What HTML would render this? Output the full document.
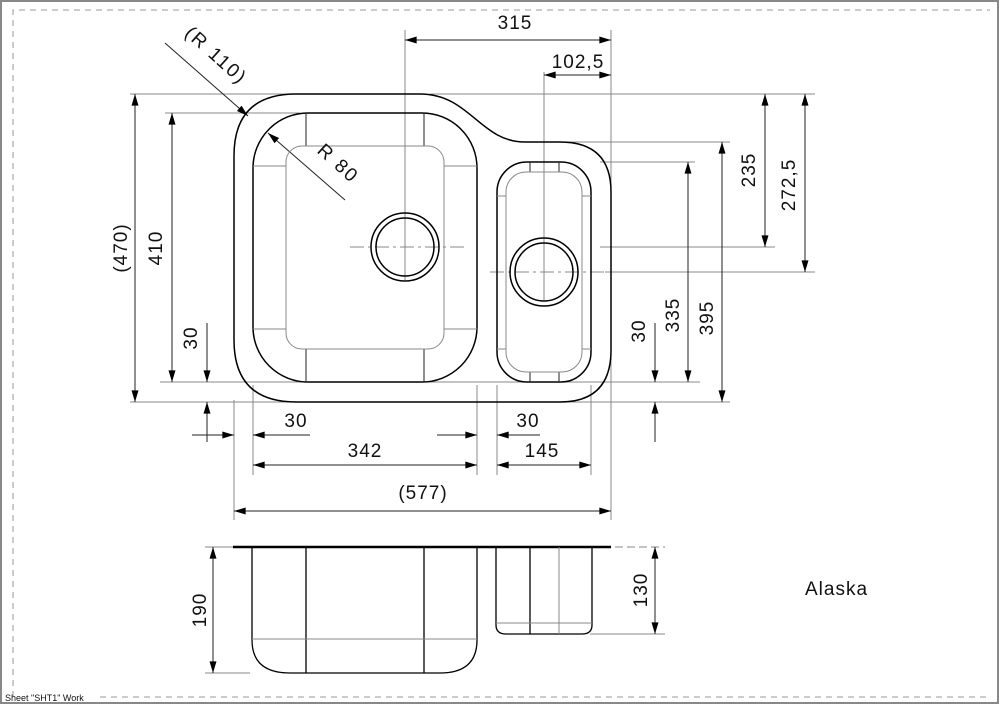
<!DOCTYPE html>
<html><head><meta charset="utf-8"><style>
html,body{margin:0;padding:0;background:#fff;}
svg{display:block;}
text{font-family:"Liberation Sans",sans-serif;font-size:19px;fill:#111;letter-spacing:1px;}
</style></head><body>
<svg width="1000" height="705" viewBox="0 0 1000 705" xmlns="http://www.w3.org/2000/svg">
<defs>
<marker id="a" viewBox="0 0 10 6" refX="10" refY="3" markerWidth="12" markerHeight="7" markerUnits="userSpaceOnUse" orient="auto-start-reverse"><path d="M0,0 L10,3 L0,6 z" fill="#000"/></marker>
</defs>
<rect x="1" y="1" width="997" height="702" fill="none" stroke="#888" stroke-width="2"/>
<path d="M13,697 V10 H990" fill="none" stroke="#999" stroke-dasharray="6,5"/>
<line x1="100" y1="697" x2="990" y2="697" stroke="#999" stroke-dasharray="6,5"/>
<text x="5" y="701" style="font-size:9px;letter-spacing:0">Sheet "SHT1" Work</text>

<g stroke="#888" stroke-width="1" fill="none">
<line x1="130" y1="94" x2="300" y2="94"/>
<line x1="430" y1="94" x2="815" y2="94"/>
<line x1="165" y1="113" x2="300" y2="113"/>
<line x1="130" y1="402" x2="730" y2="402"/>
<line x1="160" y1="382" x2="700" y2="382"/>
<line x1="565" y1="142" x2="730" y2="142"/>
<line x1="600" y1="162" x2="695" y2="162"/>
<line x1="600" y1="247" x2="775" y2="247"/>
<line x1="605" y1="272" x2="815" y2="272"/>
<line x1="234" y1="400" x2="234" y2="520"/>
<line x1="611" y1="30" x2="611" y2="520"/>
<line x1="253" y1="385" x2="253" y2="475"/>
<line x1="477" y1="385" x2="477" y2="475"/>
<line x1="497" y1="385" x2="497" y2="475"/>
<line x1="591" y1="385" x2="591" y2="475"/>
<line x1="405" y1="30" x2="405" y2="280"/>
<line x1="544" y1="72" x2="544" y2="300"/>
<line x1="205" y1="547" x2="235" y2="547"/>
<line x1="205" y1="673" x2="250" y2="673"/>
<line x1="590" y1="634" x2="665" y2="634"/>
<line x1="615" y1="547" x2="665" y2="547" stroke-dasharray="8,4"/>
<line x1="350" y1="247" x2="465" y2="247" stroke-dasharray="14,4,3,4"/>
<line x1="490" y1="272" x2="605" y2="272" stroke-dasharray="14,4,3,4"/>
</g>

<g stroke="#222" stroke-width="1" fill="none">
<line x1="405" y1="40" x2="611" y2="40" marker-start="url(#a)" marker-end="url(#a)"/>
<line x1="544" y1="75" x2="611" y2="75" marker-start="url(#a)" marker-end="url(#a)"/>
<line x1="165" y1="43" x2="248" y2="116" marker-end="url(#a)"/>
<line x1="345" y1="200" x2="268" y2="133" marker-end="url(#a)"/>
<line x1="135" y1="94" x2="135" y2="402" marker-start="url(#a)" marker-end="url(#a)"/>
<line x1="172" y1="113" x2="172" y2="382" marker-start="url(#a)" marker-end="url(#a)"/>
<line x1="207" y1="323" x2="207" y2="382" marker-end="url(#a)"/>
<line x1="207" y1="442" x2="207" y2="402" marker-end="url(#a)"/>
<line x1="192" y1="435" x2="234" y2="435" marker-end="url(#a)"/>
<line x1="310" y1="435" x2="253" y2="435" marker-end="url(#a)"/>
<line x1="437" y1="435" x2="477" y2="435" marker-end="url(#a)"/>
<line x1="540" y1="435" x2="497" y2="435" marker-end="url(#a)"/>
<line x1="253" y1="465" x2="477" y2="465" marker-start="url(#a)" marker-end="url(#a)"/>
<line x1="497" y1="465" x2="591" y2="465" marker-start="url(#a)" marker-end="url(#a)"/>
<line x1="234" y1="511" x2="611" y2="511" marker-start="url(#a)" marker-end="url(#a)"/>
<line x1="765" y1="94" x2="765" y2="247" marker-start="url(#a)" marker-end="url(#a)"/>
<line x1="805" y1="94" x2="805" y2="272" marker-start="url(#a)" marker-end="url(#a)"/>
<line x1="722" y1="142" x2="722" y2="402" marker-start="url(#a)" marker-end="url(#a)"/>
<line x1="688" y1="162" x2="688" y2="382" marker-start="url(#a)" marker-end="url(#a)"/>
<line x1="655" y1="323" x2="655" y2="382" marker-end="url(#a)"/>
<line x1="655" y1="442" x2="655" y2="402" marker-end="url(#a)"/>
<line x1="213" y1="547" x2="213" y2="673" marker-start="url(#a)" marker-end="url(#a)"/>
<line x1="655" y1="547" x2="655" y2="634" marker-start="url(#a)" marker-end="url(#a)"/>
</g>

<g fill="none" stroke="#000" stroke-width="1.5">
<path d="M296,94 H420 C470,94 480,142 525,142 H560 Q611,142 611,192 V350 Q611,402 560,402 H296 Q234,402 234,340 V156 Q234,94 296,94 Z"/>
<rect x="253" y="113" width="224" height="269" rx="55"/>
<rect x="497" y="162" width="94" height="220" rx="30"/>
<circle cx="405" cy="247" r="34"/><circle cx="405" cy="247" r="29"/>
<circle cx="544" cy="272" r="34"/><circle cx="544" cy="272" r="29"/>
</g>
<g fill="none" stroke="#222" stroke-width="1">
<line x1="306" y1="113" x2="306" y2="146"/><line x1="424" y1="113" x2="424" y2="146"/>
<line x1="306" y1="349" x2="306" y2="382"/><line x1="424" y1="349" x2="424" y2="382"/>
<line x1="530" y1="162" x2="530" y2="172"/><line x1="559" y1="162" x2="559" y2="172"/>
<line x1="530" y1="372" x2="530" y2="382"/><line x1="559" y1="372" x2="559" y2="382"/>
</g>
<g fill="none" stroke="#888" stroke-width="1">
<rect x="286" y="146" width="158" height="203" rx="16"/>
<rect x="506" y="172" width="76" height="200" rx="20"/>
<line x1="253" y1="166" x2="286" y2="166"/><line x1="444" y1="166" x2="477" y2="166"/>
<line x1="253" y1="329" x2="286" y2="329"/><line x1="444" y1="329" x2="477" y2="329"/>
<line x1="497" y1="196" x2="506" y2="196"/><line x1="582" y1="196" x2="591" y2="196"/>
<line x1="497" y1="349" x2="506" y2="349"/><line x1="582" y1="349" x2="591" y2="349"/>
</g>

<line x1="233" y1="547" x2="611" y2="547" stroke="#000" stroke-width="2.5"/>
<g fill="none" stroke="#000" stroke-width="1.3">
<path d="M252,547 V640 Q252,673 290,673 H440 Q477,673 477,640 V547"/>
<path d="M496,547 V625 Q496,634 506,634 H582 Q592,634 592,625 V547"/>
<line x1="306" y1="547" x2="306" y2="673"/><line x1="424" y1="547" x2="424" y2="673"/>
<line x1="530" y1="547" x2="530" y2="634"/>
</g>
<g stroke="#888" stroke-width="1">
<line x1="252" y1="639" x2="477" y2="639"/>
<line x1="496" y1="623" x2="592" y2="623"/>
<line x1="559" y1="547" x2="559" y2="634"/>
</g>

<text x="515" y="29" text-anchor="middle">315</text>
<text x="578" y="68" text-anchor="middle">102,5</text>
<text transform="translate(212,60) rotate(42)" text-anchor="middle" style="letter-spacing:2px">(R  110)</text>
<text transform="translate(334,168) rotate(42)" text-anchor="middle" style="letter-spacing:2px">R  80</text>
<text transform="translate(127,248) rotate(-90)" text-anchor="middle">(470)</text>
<text transform="translate(162,248) rotate(-90)" text-anchor="middle">410</text>
<text transform="translate(197,338) rotate(-90)" text-anchor="middle">30</text>
<text x="296" y="427" text-anchor="middle">30</text>
<text x="528" y="427" text-anchor="middle">30</text>
<text x="365" y="457" text-anchor="middle">342</text>
<text x="542" y="457" text-anchor="middle">145</text>
<text x="423" y="499" text-anchor="middle">(577)</text>
<text transform="translate(755,170) rotate(-90)" text-anchor="middle">235</text>
<text transform="translate(795,185) rotate(-90)" text-anchor="middle">272,5</text>
<text transform="translate(713,318) rotate(-90)" text-anchor="middle">395</text>
<text transform="translate(679,315) rotate(-90)" text-anchor="middle">335</text>
<text transform="translate(645,331) rotate(-90)" text-anchor="middle">30</text>
<text transform="translate(206,610) rotate(-90)" text-anchor="middle">190</text>
<text transform="translate(647,590) rotate(-90)" text-anchor="middle">130</text>
<text x="805" y="595">Alaska</text>
</svg>
</body></html>
